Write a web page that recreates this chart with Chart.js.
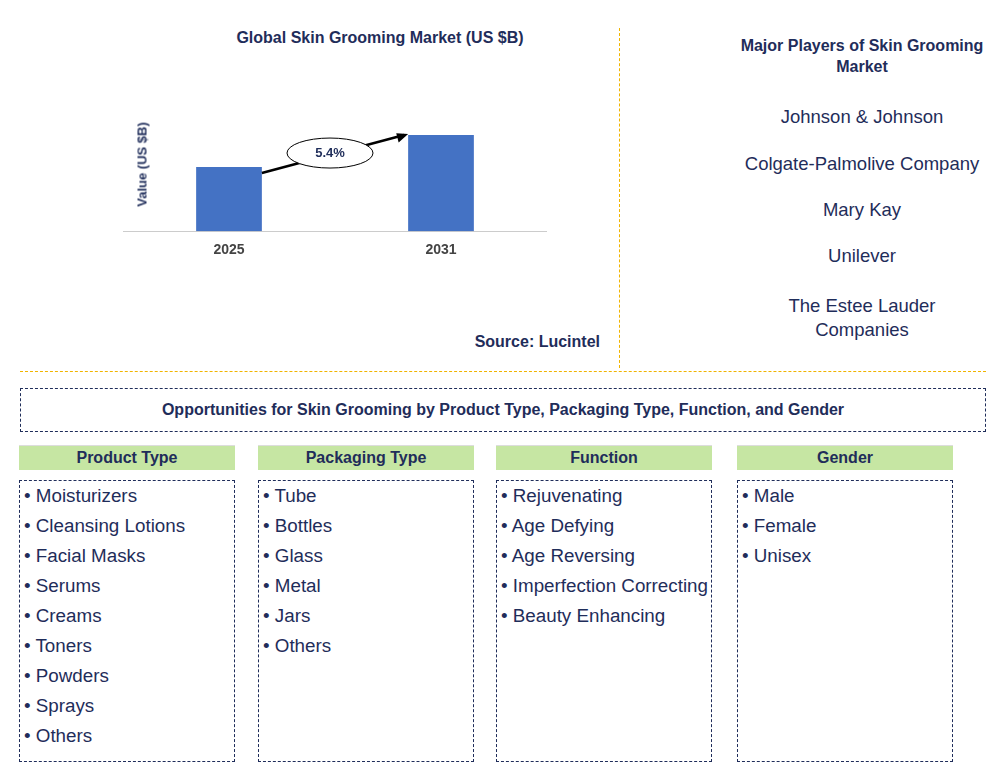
<!DOCTYPE html>
<html><head><meta charset="utf-8">
<script src="https://cdn.jsdelivr.net/npm/chart.js@4"></script>
<style>
body{margin:0;width:1006px;height:774px;background:#fff;font-family:Arial,"Liberation Sans",sans-serif;position:relative;overflow:hidden}
.a{position:absolute}
.t{color:#1f2d5a;font-weight:bold;font-size:15px;text-align:center}
.pl{color:#1f2d5a;font-size:18.5px;text-align:center;width:240px;left:742px}
.hd{background:#c6e6a3;color:#1f2d5a;font-weight:bold;font-size:16px;text-align:center;height:24px;line-height:24px;border-top:1px solid #ddd}
.bx{border:1px dashed #1f2d5a;top:480px;height:282px;font-size:18.8px;color:#1f2d5a;box-sizing:border-box;padding:0 0 0 4px;line-height:30px;white-space:nowrap}
</style></head><body>
<div class="a t" style="left:180px;top:29px;width:400px;font-size:16px">Global Skin Grooming Market (US $B)</div>
<div class="a" style="left:123px;top:121px;width:424px;height:141px"><canvas id="c"></canvas></div>
<div class="a t" style="left:92px;top:157px;width:100px;font-size:13px;transform:rotate(-90deg)">Value (US $B)</div>
<div class="a t" style="left:440px;top:333px;width:160px;text-align:right;font-size:16px">Source: Lucintel</div>
<div class="a" style="left:619px;top:28px;height:340px;border-left:1px dashed #f0b400"></div>
<div class="a" style="left:20px;top:371px;width:966px;border-top:1px dashed #f0b400"></div>
<div class="a t" style="left:732px;top:35px;width:260px;font-size:16px;line-height:21px">Major Players of Skin Grooming Market</div>
<div class="a pl" style="top:106px">Johnson &amp; Johnson</div>
<div class="a pl" style="top:153px;left:722px;width:280px">Colgate-Palmolive Company</div>
<div class="a pl" style="top:199px">Mary Kay</div>
<div class="a pl" style="top:245px">Unilever</div>
<div class="a pl" style="top:294px;line-height:24px">The Estee Lauder Companies</div>
<div class="a t" style="left:20px;top:388px;width:964px;height:42px;line-height:42px;border:1px dashed #1f2d5a;font-size:16px">Opportunities for Skin Grooming by Product Type, Packaging Type, Function, and Gender</div>
<div id="cols"></div>
<script>
const years=["2025","2031"];
const values=[64,96];
const cagr="5.4%";
const groups=["Product Type","Packaging Type","Function","Gender"];
const items=[["Moisturizers","Cleansing Lotions","Facial Masks","Serums","Creams","Toners","Powders","Sprays","Others"],
["Tube","Bottles","Glass","Metal","Jars","Others"],
["Rejuvenating","Age Defying","Age Reversing","Imperfection Correcting","Beauty Enhancing"],
["Male","Female","Unisex"]];
const lefts=[19,258,496,737];
let h="";
groups.forEach((g,i)=>{
h+=`<div class="a hd" style="left:${lefts[i]}px;top:445px;width:216px">${g}</div>`;
h+=`<div class="a bx" style="left:${lefts[i]}px;width:216px">${items[i].map(s=>"• "+s).join("<br>")}</div>`;
});
document.getElementById("cols").innerHTML=h;
const arrow={id:"arrow",afterDatasetsDraw(ch){
const m=ch.getDatasetMeta(0).data,c=ch.ctx;
const x1=m[0].x+m[0].width/2,y1=m[0].y,x2=m[1].x-m[1].width/2,y2=m[1].y;
c.save();c.strokeStyle="#000";c.lineWidth=2.5;c.beginPath();c.moveTo(x1,y1+6);c.lineTo(x2-4,y2);c.stroke();
const a=Math.atan2(y2-y1-6,x2-4-x1);c.fillStyle="#000";c.beginPath();c.moveTo(x2,y2-1);
c.lineTo(x2-12*Math.cos(a-0.4),y2-12*Math.sin(a-0.4));c.lineTo(x2-12*Math.cos(a+0.4),y2-12*Math.sin(a+0.4));c.fill();
const cx=(x1+x2)/2-5,cy=(y1+y2)/2+2;c.beginPath();c.ellipse(cx,cy,43,15,0,0,Math.PI*2);c.fillStyle="#fff";c.fill();c.lineWidth=1;c.stroke();
c.fillStyle="#1f2d5a";c.font="bold 13px Arial";c.textAlign="center";c.textBaseline="middle";c.fillText(cagr,cx,cy);c.restore();}};
new Chart(document.getElementById("c"),{type:"bar",data:{labels:years,datasets:[{data:values,backgroundColor:"#4472c4",barPercentage:0.31,categoryPercentage:1}]},
options:{responsive:true,maintainAspectRatio:false,animation:false,layout:{padding:{top:10,right:0}},
plugins:{legend:{display:false},tooltip:{enabled:false}},
scales:{y:{display:false,min:0,max:100},
x:{grid:{display:false},border:{color:"#ccc"},ticks:{color:"#444",font:{weight:"bold",size:14,family:"Arial"}}}}},plugins:[arrow]});
</script></body></html>
